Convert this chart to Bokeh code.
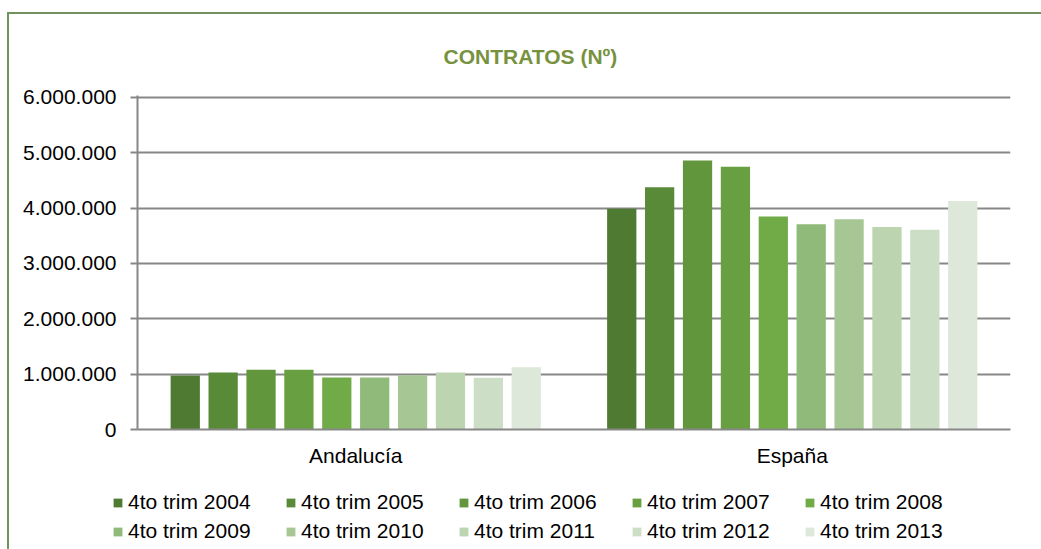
from bokeh.plotting import figure
from bokeh.layouts import column
from bokeh.models import (ColumnDataSource, FactorRange, Range1d, FixedTicker,
                          Legend, LegendItem)
from bokeh.transform import dodge
from bokeh.embed import file_html
from bokeh.resources import INLINE

regions = ["Andalucía", "España"]
series = ["4to trim 2004", "4to trim 2005", "4to trim 2006", "4to trim 2007", "4to trim 2008",
          "4to trim 2009", "4to trim 2010", "4to trim 2011", "4to trim 2012", "4to trim 2013"]
andalucia = [977000, 1030000, 1079000, 1079000, 940000, 940000, 982000, 1030000, 935000, 1125000]
espana = [3990000, 4380000, 4860000, 4750000, 3850000, 3710000, 3800000, 3660000, 3610000, 4130000]
colors = ["#4e7a31", "#598a38", "#61963c", "#68a041", "#71ab48",
          "#8fba79", "#a6c794", "#bcd5b0", "#cddec6", "#dee8da"]
y_ticks = [0, 1000000, 2000000, 3000000, 4000000, 5000000, 6000000]
y_labels = ["0", "1.000.000", "2.000.000", "3.000.000", "4.000.000", "5.000.000", "6.000.000"]
title_text = "CONTRATOS (Nº)"

FONT = "Liberation Sans"
GRAY = "#878787"
BORDER = "#71915f"
W = 1032
H1 = 475
H2 = 60

data = {"region": regions}
keys = []
for i, s in enumerate(series):
    k = "s%d" % i
    keys.append(k)
    data[k] = [andalucia[i], espana[i]]
source = ColumnDataSource(data)

x_range = FactorRange(*regions)
p = figure(width=W, height=H1, x_range=x_range, y_range=Range1d(0, 6036000),
           output_backend="svg", toolbar_location=None,
           min_border_left=128, min_border_right=31, min_border_top=78, min_border_bottom=H1 - 415)
p.outline_line_color = None
p.background_fill_color = "white"
p.border_fill_color = "white"

# title
p.title.text = title_text
p.title.text_font = FONT
p.title.text_font_size = "21px"
p.title.text_font_style = "bold"
p.title.text_color = "#77923f"
p.title.align = "left"
p.title.offset = 306
p.title.standoff = 56

pitch = 0.0868
bw = 0.067
for i, k in enumerate(keys):
    off = (i - 4.5) * pitch
    p.vbar(x=dodge("region", off, range=x_range), top=k, width=bw, bottom=0,
           source=source, fill_color=colors[i], line_color=None)

# axes
yax = p.yaxis[0]
yax.ticker = FixedTicker(ticks=y_ticks)
yax.major_label_overrides = {t: l for t, l in zip(y_ticks, y_labels)}
yax.major_label_text_font = FONT
yax.major_label_text_font_size = "21px"
yax.major_label_text_color = "black"
yax.axis_line_color = GRAY
yax.axis_line_width = 2
yax.major_tick_line_color = GRAY
yax.major_tick_line_width = 2
yax.major_tick_out = 7
yax.major_tick_in = 0
yax.minor_tick_line_color = None
yax.major_label_standoff = 14

xax = p.xaxis[0]
xax.major_label_text_font = FONT
xax.major_label_text_font_size = "21px"
xax.major_label_text_color = "black"
xax.axis_line_color = GRAY
xax.axis_line_width = 2
xax.major_tick_line_color = None
xax.major_tick_out = 0
xax.major_tick_in = 0
xax.minor_tick_line_color = None
xax.major_label_standoff = 14

p.xgrid.grid_line_color = None
p.ygrid.ticker = FixedTicker(ticks=y_ticks)
p.ygrid.grid_line_color = GRAY
p.ygrid.grid_line_width = 2

# legend strip: same series drawn out of view, only the legend keys show
p2 = figure(width=W, height=H2, x_range=x_range, y_range=Range1d(1e9, 1e9 + 1),
            output_backend="svg", toolbar_location=None, x_axis_type=None, y_axis_type=None,
            min_border=0)
p2.outline_line_color = None
p2.xgrid.grid_line_color = None
p2.ygrid.grid_line_color = None
p2.background_fill_alpha = 0
p2.border_fill_alpha = 0
p2.styles = {"margin-left": "-25px"}
proxies = []
for i, k in enumerate(keys):
    off = (i - 4.5) * pitch
    proxies.append(p2.vbar(x=dodge("region", off, range=x_range), top=k, width=bw, bottom=0,
                           source=source, fill_color=colors[i], line_color=None))

lg = Legend(items=[LegendItem(label=series[i], renderers=[proxies[i]]) for i in range(10)],
            orientation="horizontal", ncols=5, location=(0, 6),
            glyph_width=11, glyph_height=11, label_height=24, label_width=152,
            label_standoff=5, spacing=5, padding=0, margin=0,
            border_line_color=None, background_fill_alpha=0,
            label_text_font=FONT, label_text_font_size="21px", label_text_color="black")
p2.add_layout(lg, "center")

layout = column(p, p2, spacing=0)
layout.styles = {"margin-left": "7px", "margin-top": "12px",
                 "border-left": "2px solid " + BORDER, "border-top": "2px solid " + BORDER}

open("out.html", "w").write(file_html(layout, INLINE))
